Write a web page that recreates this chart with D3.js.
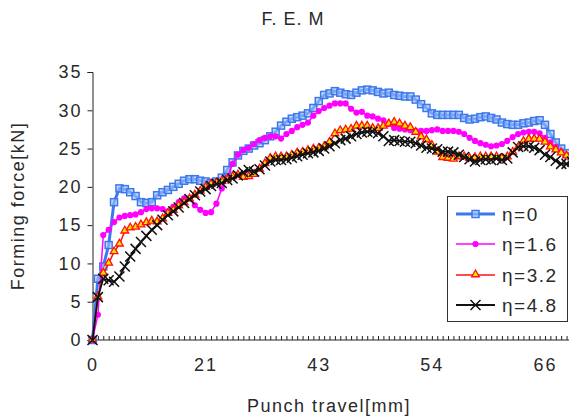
<!DOCTYPE html>
<html>
<head>
<meta charset="utf-8">
<script src="https://cdn.jsdelivr.net/npm/d3@7"></script>
<style>
body{margin:0;background:#fff;}
text{font-family:"Liberation Sans",Arial,sans-serif;fill:#2a2a2a;}
</style>
</head>
<body>
<div id="chart"></div>
<script>
// punch travel labels shown on the category axis (every 21st category)
var tickIdx = [0, 21, 42, 63, 84];
var tickLabels = ["0", "21", "43", "54", "66"];
var nCat = 90;

var eta0 = [0,8,9.6,12.4,18,19.8,19.7,19.3,18.8,18.0,17.9,18.0,18.9,19.3,19.6,20.0,20.4,20.8,21.0,21.0,
  20.8,20.7,20.5,20.7,21.2,22.2,23.2,24.1,24.7,25.0,25.4,25.7,26.1,26.6,27.2,28.0,28.5,28.9,29.1,29.3,
  29.6,30.3,31.2,32.0,32.2,32.5,32.3,32.1,32.0,32.3,32.6,32.7,32.6,32.4,32.2,32.3,32.0,31.9,31.8,31.8,
  31.4,30.8,30.3,29.6,29.4,29.4,29.4,29.4,29.4,29.0,28.8,28.9,29.1,29.2,29.0,28.8,28.4,28.2,28.1,28.1,
  28.3,28.4,28.6,28.7,28.1,26.9,25.8,25.0,24.4,24.0];
var eta16 = [0,3.3,13.7,14.4,15.4,16.0,16.2,16.3,16.4,16.7,17.1,17.2,17.2,17.1,16.8,17.4,18.0,18.5,18.5,17.6,
  17.0,16.6,16.7,17.8,19.8,21.2,23.0,24.2,24.8,25.1,25.6,26.1,26.4,26.6,26.6,26.3,26.9,27.3,27.8,28.1,
  28.4,29.3,29.9,30.3,30.6,30.9,30.9,30.9,30.2,29.7,29.8,29.3,29.2,28.9,28.7,28.2,27.7,27.6,27.5,27.4,
  27.3,27.3,27.3,27.4,27.5,27.3,27.3,27.3,27.2,26.9,26.4,26.0,25.7,25.5,25.3,25.4,25.6,26.0,26.5,26.9,
  27.1,27.2,27.2,27.0,26.4,25.8,25.2,24.6,24.1,23.8];
var eta32 = [0,5.6,8.7,10.0,11.5,12.5,14.2,14.6,14.7,15.0,15.3,15.5,15.4,15.8,16.5,16.9,17.5,17.9,18.4,18.9,
  19.4,19.9,20.3,20.5,20.7,20.9,21.3,21.5,21.2,21.3,21.6,22.3,23.0,23.7,23.9,23.9,23.9,24.1,24.4,24.5,
  24.7,24.9,25.0,25.2,25.8,26.9,27.3,27.4,27.5,27.9,27.9,27.9,27.6,27.6,27.9,28.2,28.4,28.2,27.9,27.7,
  27.1,26.5,26.1,25.4,24.5,23.8,23.7,23.6,23.9,23.9,23.7,23.8,23.9,23.9,23.9,23.9,23.7,23.9,24.5,25.1,
  25.9,26.2,26.2,26.2,25.8,25.2,24.8,24.4,24.0,23.8];
var eta48 = [0,5.6,8.0,7.8,7.6,8.3,9.6,10.9,11.9,12.8,13.6,14.4,15.0,15.7,16.3,16.8,17.3,17.9,18.4,18.9,
  19.4,19.7,20.1,20.4,20.5,20.9,21.1,21.5,21.9,22.2,22.0,22.3,22.8,23.3,23.5,23.5,23.6,23.8,24.0,24.2,
  24.4,24.5,24.7,25.0,25.3,25.7,26.1,26.3,26.6,26.9,27.1,27.2,27.2,27.0,26.6,26.0,26.1,26.0,25.9,25.9,
  25.7,25.4,25.1,25.0,24.9,24.6,24.6,24.5,24.2,23.9,23.6,23.3,23.5,23.6,23.5,23.7,23.5,23.7,24.5,25.2,
  25.3,25.3,25.1,24.8,24.2,23.9,23.4,23.0,23.0,23.3];

var seriesNames = ["η=0", "η=1.6", "η=3.2", "η=4.8"];
var seriesData = [eta0, eta16, eta32, eta48];

var width = 569, height = 419;
var svg = d3.select("#chart").append("svg")
    .attr("width", width).attr("height", height);

var x = d3.scaleLinear().domain([0, 84]).range([92.5, 545]);
var y = d3.scaleLinear().domain([0, 35]).range([340, 72]);

var styles = [
  {stroke:"#3b78ee", width:3, marker:"square"},
  {stroke:"#ff00ff", width:1.5, marker:"diamond"},
  {stroke:"#ff1010", width:1.5, marker:"triangle"},
  {stroke:"#111", width:1.8, marker:"x"}
];

// title
svg.append("text").attr("x", 293).attr("y", 25).attr("text-anchor", "middle")
    .style("font-size", "18px").style("letter-spacing", "1px").text("F. E. M");

// y axis
var yAxis = svg.append("g").attr("transform", "translate(92.5,0)")
    .call(d3.axisLeft(y).tickValues(d3.range(0, 36, 5)).tickSize(5).tickPadding(7));
yAxis.selectAll("text").style("font-size", "18px").style("letter-spacing", "2px").attr("dx", "2px");

// x axis: minor ticks on every category, pointing inward
var cats = d3.range(nCat);
var xAxis = svg.append("g").attr("transform", "translate(0,340)")
    .call(d3.axisBottom(x).tickValues(cats).tickSize(-4).tickFormat(""));
xAxis.select(".domain").attr("d", "M92.5,0H575");
var xLab = svg.append("g").attr("transform", "translate(0,340)")
    .call(d3.axisBottom(x).tickValues(tickIdx).tickSize(0).tickPadding(18)
      .tickFormat(function(d, i){ return tickLabels[i]; }));
xLab.select(".domain").remove();
xLab.selectAll("text").style("font-size", "18px").style("letter-spacing", "2px");
svg.selectAll(".domain, .tick line").attr("stroke", "#222");
svg.selectAll(".tick text").attr("fill", "#2a2a2a");

// axis titles
svg.append("text").attr("x", 329).attr("y", 412).attr("text-anchor", "middle")
    .style("font-size", "18px").style("letter-spacing", "1.5px").text("Punch travel[mm]");
svg.append("text").attr("transform", "translate(24,206) rotate(-90)").attr("text-anchor", "middle")
    .style("font-size", "18px").style("letter-spacing", "1.5px").text("Forming force[kN]");

function drawMarker(g, type, color, px, py){
  if (type === "square") {
    g.append("rect").attr("x", px - 3.5).attr("y", py - 3.5).attr("width", 7).attr("height", 7)
      .attr("fill", "#a9c4f7").attr("fill-opacity", 0.6).attr("stroke", color).attr("stroke-width", 1.5);
  } else if (type === "diamond") {
    g.append("path").attr("d", d3.symbol(d3.symbolCircle, 30)()).attr("transform", "translate(" + px + "," + py + ")")
      .attr("fill", color);
  } else if (type === "triangle") {
    g.append("path").attr("d", d3.symbol(d3.symbolTriangle, 26)()).attr("transform", "translate(" + px + "," + (py - 0.5) + ")")
      .attr("fill", "#ffe000").attr("stroke", color).attr("stroke-width", 1.3);
  } else {
    g.append("path").attr("d", "M" + (px - 5) + "," + (py - 5) + "L" + (px + 5) + "," + (py + 5) +
      "M" + (px - 5) + "," + (py + 5) + "L" + (px + 5) + "," + (py - 5))
      .attr("stroke", color).attr("stroke-width", 1.5);
  }
}

var line = d3.line().x(function(d, i){ return x(i); }).y(function(d){ return y(d); });
seriesData.forEach(function(data, k){
  var st = styles[k];
  var g = svg.append("g");
  g.append("path").datum(data).attr("d", line).attr("fill", "none")
    .attr("stroke", st.stroke).attr("stroke-width", st.width);
  data.forEach(function(v, i){ drawMarker(g, st.marker, st.stroke, x(i), y(v)); });
});

// legend
var lg = svg.append("g");
lg.append("rect").attr("x", 447.5).attr("y", 196.5).attr("width", 120).attr("height", 125)
  .attr("fill", "#fff").attr("stroke", "#333").attr("stroke-width", 1);
var legY = [214, 244, 275, 305];
seriesNames.forEach(function(name, k){
  var st = styles[k];
  lg.append("line").attr("x1", 456).attr("x2", 495).attr("y1", legY[k]).attr("y2", legY[k])
    .attr("stroke", st.stroke).attr("stroke-width", st.width);
  drawMarker(lg, st.marker, st.stroke, 475.5, legY[k]);
  lg.append("text").attr("x", 502).attr("y", legY[k] + 7)
    .style("font-size", "19px").style("letter-spacing", "1.5px").text(name);
});
</script>
</body>
</html>
